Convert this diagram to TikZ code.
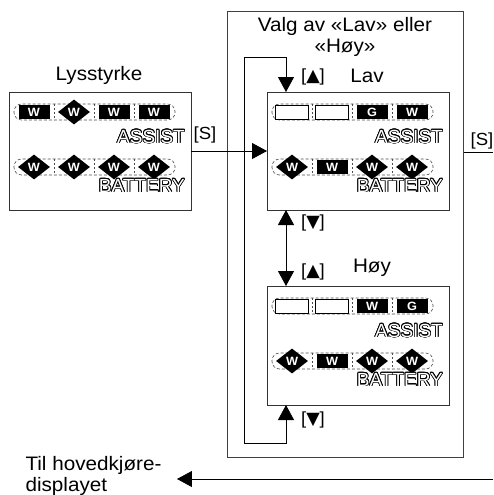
\documentclass[tikz,border=0pt]{standalone}
\usepackage{fontspec}
\setmainfont{Liberation Sans}[FakeStretch=1.06]
\newfontfamily\dispfont{Liberation Sans}
\newfontfamily\symfont{DejaVu Sans}
\usepackage{contour}
\contourlength{0.75pt}
\usetikzlibrary{arrows.meta,shapes.geometric}

\tikzset{
  lcd/.style={draw=black!80, line width=0.8pt, minimum width=182pt, minimum height=118pt,
    inner sep=0pt, outer sep=0pt, anchor=north west},
  segon/.style={fill=black, minimum width=31pt, minimum height=14pt, inner sep=0pt,
    text=white, font=\bfseries\fontsize{12}{12}\selectfont},
  segdia/.style={segon, diamond, minimum width=32pt, minimum height=25pt},
  segoff/.style={draw, fill=white, line width=0.6pt, minimum width=33pt, minimum height=14pt, inner sep=0pt},
  lcdlabel/.style={anchor=east, inner sep=0pt, text=white, font=\dispfont\fontsize{19}{19}\selectfont},
  keylabel/.style={font=\fontsize{17.5}{17.5}\selectfont},
  headtext/.style={font=\fontsize{19.5}{20.5}\selectfont},
  flow/.style={line width=0.8pt},
}

% one row of the display: y position, then x/style/letter for each slot
\newcommand\lcdrow[2]{%
  \draw[black!70, line width=0.6pt, dash pattern=on 3pt off 2pt, rounded corners=7.5pt]
    (5,#1-8) rectangle (166,#1+8);
  \foreach \sx in {45,85,125}
    \draw[black!70, line width=0.6pt, dash pattern=on 2pt off 2pt] (\sx,#1-8) -- (\sx,#1+8);
  \foreach \sx/\ss/\st in {#2}
    \node[\ss] at (\sx,#1) {\st};
}
\newcommand\keyup{[{\symfont ▲}]}
\newcommand\keydown{[{\symfont ▼}]}

\begin{document}
\begin{tikzpicture}[x=1pt, y=-1pt, >={Triangle[length=15pt,width=16pt]}]
\useasboundingbox (0,0) rectangle (493,495);

% boxes
\node[draw=black!75, line width=1pt, minimum width=236pt, minimum height=446pt,
  inner sep=0pt, anchor=north west] (valg) at (227,11) {};
\node[lcd] (lys) at (9,92) {};
\node[lcd] (lav) at (267,92) {};
\node[lcd, minimum height=119pt] (hoy) at (267,286) {};

% texts
\node[headtext] (lystext) at (99,75) {Lysstyrke};
\node[headtext, align=center] (valgtext) at (345,37) {Valg av «Lav» eller\\«Høy»};
\node[headtext] (lavtext) at (367,76) {Lav};
\node[headtext] (hoytext) at (372,268) {Høy};
\node[headtext, anchor=west, align=left] (home) at (22,476) {Til hovedkjøre-\\displayet};

% displays
\begin{scope}[shift={(lys.north west)}]
  \lcdrow{20}{25/segon/W, 65/segdia/W, 105/segon/W, 145/segon/W}
  \node[lcdlabel] (lysassist) at (176,45) {\contour{black}{ASSIST}};
  \lcdrow{75}{25/segdia/W, 65/segdia/W, 105/segdia/W, 145/segdia/W}
  \node[lcdlabel] (lysbattery) at (176,94) {\contour{black}{BATTERY}};
\end{scope}
\begin{scope}[shift={(lav.north west)}]
  \lcdrow{20}{25/segoff/{}, 65/segoff/{}, 105/segon/G, 145/segon/W}
  \node[lcdlabel] (lavassist) at (176,45) {\contour{black}{ASSIST}};
  \lcdrow{75}{25/segdia/W, 65/segon/W, 105/segdia/W, 145/segdia/W}
  \node[lcdlabel] (lavbattery) at (176,94) {\contour{black}{BATTERY}};
\end{scope}
\begin{scope}[shift={(hoy.north west)}]
  \lcdrow{20}{25/segoff/{}, 65/segoff/{}, 105/segon/W, 145/segon/G}
  \node[lcdlabel] (hoyassist) at (176,45) {\contour{black}{ASSIST}};
  \lcdrow{75}{25/segdia/W, 65/segon/W, 105/segdia/W, 145/segdia/W}
  \node[lcdlabel] (hoybattery) at (176,94) {\contour{black}{BATTERY}};
\end{scope}

% keys
\node[keylabel] (keyin) at (205,135) {[S]};
\node[keylabel] (keyout) at (482,141) {[S]};
\node[keylabel] (keyup1) at (313,77) {\keyup};
\node[keylabel] (keydown1) at (313,223) {\keydown};
\node[keylabel] (keyup2) at (313,272) {\keyup};
\node[keylabel] (keydown2) at (313,420) {\keydown};

% connectors
\coordinate (exitr) at (493,152);
\coordinate (exitb) at (493,479);
\coordinate (loopbl) at (244,443);
\coordinate (looptl) at (244,57);
\draw[flow, ->] (lys.east) -- (lav.west);
\draw[flow] (valg.east |- exitr) -- (exitr);
\draw[flow, <->] ([xshift=19pt]lav.south west) -- ([xshift=19pt]hoy.north west);
\draw[flow, <->] ([xshift=19pt]hoy.south west) |- (loopbl) -- (looptl) -| ([xshift=19pt]lav.north west);
\draw[flow, ->] (exitb) -- ([xshift=12pt]home.east |- exitb);
\end{tikzpicture}
\end{document}
